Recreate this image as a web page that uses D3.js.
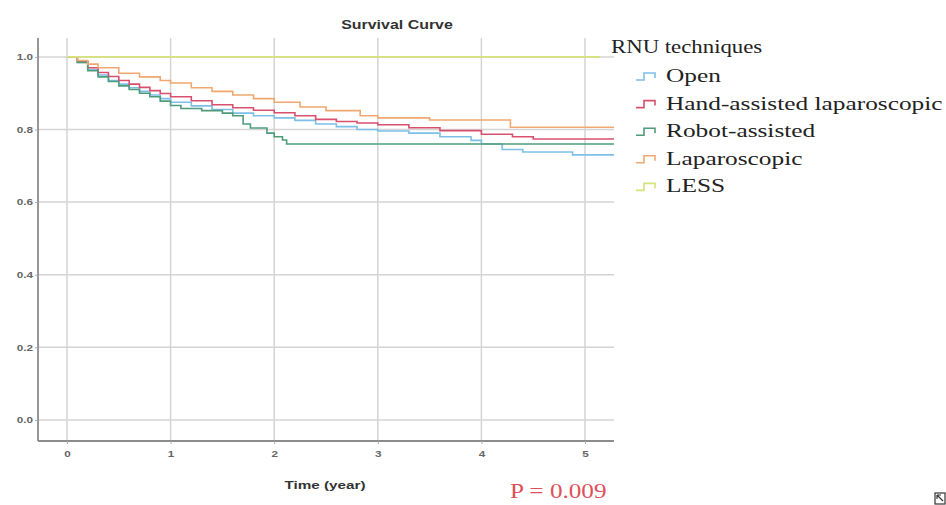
<!DOCTYPE html>
<html>
<head>
<meta charset="utf-8">
<script src="https://cdn.jsdelivr.net/npm/d3@7"></script>
<style>
  body { margin: 0; background: #fff; }
  svg { display: block; }
</style>
</head>
<body>
<svg id="chart" width="946" height="505"></svg>
<script>
// survival data, [time in years, survival] at each step
const openData = [[0,1],[0.1,0.985],[0.2,0.965],[0.3,0.95],[0.4,0.935],[0.5,0.925],[0.6,0.915],[0.7,0.905],[0.8,0.895],[0.9,0.885],[1.0,0.875],[1.2,0.865],[1.4,0.855],[1.6,0.845],[1.8,0.838],[2.0,0.832],[2.2,0.825],[2.4,0.815],[2.6,0.808],[2.8,0.8],[3.0,0.796],[3.3,0.79],[3.6,0.78],[3.9,0.77],[4.0,0.76],[4.2,0.745],[4.4,0.738],[4.88,0.73],[5.28,0.73]]
const handData = [[0,1],[0.1,0.987],[0.2,0.97],[0.3,0.957],[0.4,0.946],[0.5,0.935],[0.6,0.925],[0.7,0.916],[0.8,0.907],[0.9,0.899],[1.0,0.89],[1.2,0.879],[1.4,0.868],[1.6,0.86],[1.8,0.853],[2.0,0.846],[2.2,0.838],[2.4,0.828],[2.6,0.822],[2.8,0.818],[3.0,0.813],[3.3,0.805],[3.6,0.797],[4.0,0.787],[4.3,0.78],[4.5,0.774],[5.28,0.774]]
const robotData = [[0,1],[0.1,0.985],[0.2,0.962],[0.3,0.945],[0.4,0.932],[0.5,0.92],[0.6,0.91],[0.7,0.9],[0.8,0.89],[0.9,0.878],[1.0,0.866],[1.1,0.858],[1.3,0.852],[1.5,0.845],[1.6,0.838],[1.7,0.815],[1.77,0.804],[1.93,0.79],[2.0,0.78],[2.08,0.771],[2.12,0.76],[5.28,0.76]]
const lapData = [[0,1],[0.1,0.99],[0.2,0.98],[0.3,0.97],[0.5,0.955],[0.7,0.945],[0.9,0.935],[1.0,0.928],[1.2,0.915],[1.4,0.905],[1.6,0.895],[1.8,0.885],[2.0,0.875],[2.25,0.862],[2.5,0.852],[2.83,0.838],[3.0,0.832],[3.5,0.826],[4.28,0.806],[5.28,0.806]]
const lessData = [[0,1],[5.15,1]]

const groupNames = ["Open","Hand-assisted laparoscopic","Robot-assisted","Laparoscopic","LESS"]
const groupSeries = [openData, handData, robotData, lapData, lessData]
const xTicks = [0,1,2,3,4,5]
const yTicks = [0,0.2,0.4,0.6,0.8,1.0]

const colors = ["#7cc0e8","#d9506e","#4f9c7a","#f0a870","#d6e27a"]
const stretchX = 1.335 // the source picture is wider than tall, text looks stretched

const svg = d3.select("#chart")

let x = d3.scaleLinear().domain([-0.28, 5.28]).range([38, 614])
let y = d3.scaleLinear().domain([-0.058, 1.052]).range([441, 38])

// move x/y into a transform so the glyphs can be widened
function stretch(sel, s) {
  sel.attr("transform", function() {
    let tx = +this.getAttribute("x") || 0, ty = +this.getAttribute("y") || 0
    this.setAttribute("x", 0); this.setAttribute("y", 0)
    return "translate(" + tx + "," + ty + ") scale(" + s + ",1)"
  })
}

// gridlines
svg.append("g")
  .selectAll("line")
  .data(xTicks)
  .enter().append("line")
  .attr("x1", d => x(d)).attr("x2", d => x(d))
  .attr("y1", 38).attr("y2", 441)
  .attr("stroke", "#d4d4d4").attr("stroke-width", 1.5)
svg.append("g")
  .selectAll("line")
  .data(yTicks)
  .enter().append("line")
  .attr("x1", 38).attr("x2", 614)
  .attr("y1", d => y(d)).attr("y2", d => y(d))
  .attr("stroke", "#d4d4d4").attr("stroke-width", 1.5)

// axes
let xAxis = d3.axisBottom(x).tickValues(xTicks).tickSize(3).tickFormat(d3.format("d"))
let yAxis = d3.axisLeft(y).tickValues(yTicks).tickSize(3).tickFormat(d3.format(".1f"))

let gx = svg.append("g").attr("transform", "translate(0,441)").call(xAxis)
let gy = svg.append("g").attr("transform", "translate(38,0)").call(yAxis)
gx.select(".domain").attr("d", "M38,0H614")
gy.select(".domain").attr("d", "M0,38V441")
;[gx, gy].forEach(g => {
  g.select(".domain").attr("stroke", "#8c8c8c").attr("stroke-width", 1.8)
  g.selectAll(".tick line").attr("stroke", "#aaa")
  g.selectAll("text")
    .style("font-family", "Arial, 'Liberation Sans', sans-serif")
    .style("font-size", "9px")
    .style("font-weight", "bold")
    .style("fill", "#666")
})
gx.selectAll("text").attr("dy", "1.1em")
gy.selectAll("text").attr("x", -5)
stretch(gx.selectAll("text"), 1.3)
stretch(gy.selectAll("text"), 1.3)

// curves
let line = d3.line()
  .x(d => x(d[0]))
  .y(d => y(d[1]))
  .curve(d3.curveStepAfter)

svg.append("g")
  .selectAll("path")
  .data(groupSeries)
  .enter().append("path")
  .attr("d", line)
  .attr("fill", "none")
  .attr("stroke", (d,i) => colors[i])
  .attr("stroke-width", 1.6)

// title and axis label
svg.append("text")
  .attr("x", 397).attr("y", 29)
  .attr("text-anchor", "middle")
  .style("font-family", "Arial, 'Liberation Sans', sans-serif")
  .style("font-size", "12px")
  .style("font-weight", "bold")
  .style("fill", "#333")
  .text("Survival Curve")
  .call(stretch, 1.33)
svg.append("text")
  .attr("x", 325).attr("y", 489)
  .attr("text-anchor", "middle")
  .style("font-family", "Arial, 'Liberation Sans', sans-serif")
  .style("font-size", "11.5px")
  .style("font-weight", "bold")
  .style("fill", "#333")
  .text("Time (year)")
  .call(stretch, 1.33)

// p-value
svg.append("text")
  .attr("x", 510).attr("y", 498)
  .style("font-family", "'Liberation Serif', 'Times New Roman', serif")
  .style("font-size", "21px")
  .style("fill", "#e0505a")
  .text("P = 0.009")
  .call(stretch, 1.2)

// legend
let legend = svg.append("g")
legend.append("text")
  .attr("x", 611).attr("y", 53)
  .style("font-family", "'Liberation Serif', 'Times New Roman', serif")
  .style("font-size", "19px")
  .style("fill", "#222")
  .text("RNU techniques")
  .call(stretch, 1.2)

let items = legend.selectAll("g.item")
  .data(groupNames)
  .enter().append("g")
  .attr("class", "item")
  .attr("transform", (d,i) => "translate(636," + (76 + i*27.6) + ")")
items.append("path")
  .attr("d", "M0,4H8V-3H19V2")
  .attr("fill", "none")
  .attr("stroke", (d,i) => colors[i])
  .attr("stroke-width", 1.6)
items.append("text")
  .attr("x", 30).attr("y", 6)
  .style("font-family", "'Liberation Serif', 'Times New Roman', serif")
  .style("font-size", "19px")
  .style("fill", "#222")
  .text(d => d)
  .call(stretch, stretchX)

// corner icon
svg.append("rect").attr("x", 935).attr("y", 493).attr("width", 10).attr("height", 11)
  .attr("fill", "none").attr("stroke", "#333").attr("stroke-width", 1.2)
svg.append("path").attr("d", "M937,495L943,501M937,495H941M937,495V499")
  .attr("fill", "none").attr("stroke", "#333").attr("stroke-width", 1.2)
</script>
</body>
</html>
